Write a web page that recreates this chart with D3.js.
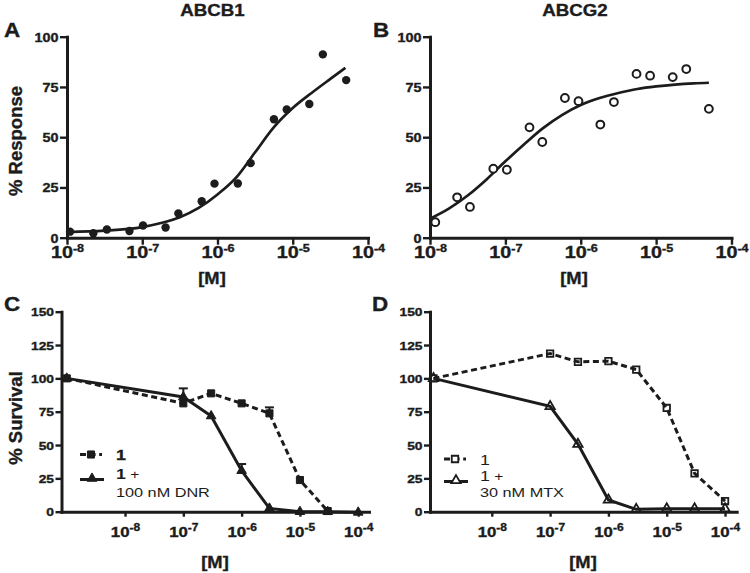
<!DOCTYPE html>
<html><head><meta charset="utf-8">
<script src="https://cdn.jsdelivr.net/npm/d3@7"></script>
<style>
body{margin:0;background:#fff}
svg{display:block}
text{font-family:"Liberation Sans",Arial,Helvetica,sans-serif;fill:#1c1c1c}
text.heavy, .heavy text{stroke:#1c1c1c;stroke-width:0.35px}
</style>
</head><body>
<svg id="chart" width="750" height="573"></svg>
<script>
// ---------- DATA ----------
// Panel A (ABCB1): log10 concentration [M] and % response
const aLogConc = [-7.96,-7.65,-7.47,-7.17,-6.99,-6.69,-6.52,-6.21,-6.04,-5.73,-5.56,-5.25,-5.08,-4.78,-4.60,-4.29];
const aResponse = [3.0,2.2,4.1,3.3,6.1,5.1,12.1,18.1,26.9,27.0,37.1,58.9,63.8,66.5,91.2,78.4];
// fitted curve
const aFitLog = [-8,-7.5,-7,-6.75,-6.5,-6.25,-6,-5.75,-5.5,-5.25,-5,-4.75,-4.5,-4.3];
const aFitResp = [2.8,3.5,5.3,7.3,10.2,14.8,21.5,30,42.5,55,64.5,72,79,84.5];

// Panel B (ABCG2)
const bLogConc = [-7.93,-7.64,-7.47,-7.16,-6.98,-6.68,-6.51,-6.21,-6.03,-5.74,-5.56,-5.26,-5.08,-4.78,-4.60,-4.30];
const bResponse = [7.7,20.1,15.3,34.3,33.8,54.9,47.6,69.5,67.9,56.3,67.5,81.5,80.6,79.9,83.9,64.1];
const bFitLog = [-8,-7.75,-7.5,-7.25,-7,-6.75,-6.5,-6.25,-6,-5.75,-5.5,-5.25,-5,-4.75,-4.5,-4.3];
const bFitResp = [9.5,14.5,21,29,38,46.5,54.5,61,66,69.5,72,74,75.3,76.2,76.8,77.1];

// Panels C & D: concentrations [M] (control plotted at 1e-9)
const survConc = [1e-9,1e-7,3e-7,1e-6,3e-6,1e-5,3e-5,1e-4];
// C: "1" alone (filled squares, dashed) and "1 + 100 nM DNR" (filled triangles, solid)
const cCmpd = [100,81.25,88.75,81.25,73.75,23.75,0.5];
const cCmpdErr = [0,0,0,0,4.5,0,0];
const cCombo = [100,86,71.75,30.75,2.5,0,0,-0.5];
const cComboErr = [0,6.5,0,5,0,0,0,0];
// D: "1" alone (open squares, dashed) and "1 + 30 nM MTX" (open triangles, solid)
const dCmpd = [100,118.6,112.4,112.9,106.6,77.8,28.8,8.0];
const dCombo = [100,79,50.7,8.8,1.8,2.3,2.3,2.3];

// axis ticks
const abYTicks = [0,25,50,75,100];
const abXTicks = [1e-8,1e-7,1e-6,1e-5,1e-4];
const cdYTicks = [0,25,50,75,100,125,150];
const cdXTicks = [1e-8,1e-7,1e-6,1e-5,1e-4];

const titles = ["ABCB1","ABCG2"];
const panelLetters = ["A","B","C","D"];
const xLabel = "[M]";
const yLabelTop = "% Response";
const yLabelBottom = "% Survival";
const legendC = ["1","1 +","100 nM DNR"];
const legendD = ["1","1 +","30 nM MTX"];

// ---------- DRAWING ----------
const SX = 1.2;
const INK = "#1c1c1c";
const svg = d3.select("#chart");

function stext(x, y, str, size, weight, anchor, sx) {
  return svg.append("text")
    .attr("class", weight === "bold" ? "heavy" : null)
    .attr("transform", `translate(${x},${y}) scale(${sx||SX},1)`)
    .attr("text-anchor", anchor || "start")
    .attr("font-size", size)
    .attr("font-weight", weight || "bold")
    .text(str);
}

function axes(x, y, cfg) {
  const gy = svg.append("g").attr("class", "heavy").attr("transform", `translate(${x.range()[0]},0)`)
    .call(d3.axisLeft(y).tickValues(cfg.yTicks).tickSize(cfg.yTick).tickSizeOuter(0).tickFormat(d3.format("d")));
  const gx = svg.append("g").attr("class", "heavy").attr("transform", `translate(0,${y.range()[0]})`)
    .call(d3.axisBottom(x).tickValues(cfg.xTicks).tickSize(cfg.xTick).tickSizeOuter(0));
  [gy, gx].forEach(g => {
    g.select(".domain").attr("stroke", INK).attr("stroke-width", 3).attr("stroke-linecap", "square");
    g.selectAll(".tick line").attr("stroke", INK).attr("stroke-width", 2.4);
  });
  gy.selectAll(".tick text")
    .attr("x", -(cfg.yTick + 1.5) / SX).attr("dy", "0.36em")
    .attr("transform", `scale(${SX},1)`)
    .attr("font-size", cfg.yFont).attr("font-weight", "bold").attr("fill", INK)
    .attr("font-family", null);
  gx.selectAll(".tick text").each(function(d) {
    const t = d3.select(this);
    const e = Math.round(Math.log10(d));
    t.text(null).attr("y", cfg.xLabelY).attr("dy", 0)
      .attr("transform", `scale(${SX},1)`)
      .attr("font-size", cfg.xFont).attr("font-weight", "bold").attr("fill", INK)
      .attr("font-family", null);
    t.append("tspan").text("10");
    t.append("tspan").attr("dy", cfg.expDy).attr("font-size", cfg.expFont).text(String(e));
  });
}

// ----- Panels A & B -----
const yAB = d3.scaleLinear().domain([0,100]).range([237.7,36.7]);
const xA = d3.scaleLog().domain([1e-8,1e-4]).range([67,368]);
const xB = d3.scaleLog().domain([1e-8,1e-4]).range([430,731.5]);
const abCfg = {yTicks: abYTicks, xTicks: abXTicks, yTick: 7, xTick: 7, yFont: 12, xFont: 16.5, expFont: 10.5, expDy: -6.5, xLabelY: 20.5};
axes(xA, yAB, abCfg);
axes(xB, yAB, abCfg);

const fitLine = (x, y) => d3.line().x(d => x(Math.pow(10, d[0]))).y(d => y(d[1])).curve(d3.curveMonotoneX);

svg.append("path").datum(aFitLog.map((v,i) => [v, aFitResp[i]]))
  .attr("d", fitLine(xA, yAB)).attr("fill", "none").attr("stroke", INK).attr("stroke-width", 2.7);
svg.append("g").selectAll("circle").data(aLogConc.map((v,i) => [v, aResponse[i]])).join("circle")
  .attr("cx", d => xA(Math.pow(10, d[0]))).attr("cy", d => yAB(d[1])).attr("r", 4.2).attr("fill", INK);

svg.append("path").datum(bFitLog.map((v,i) => [v, bFitResp[i]]))
  .attr("d", fitLine(xB, yAB)).attr("fill", "none").attr("stroke", INK).attr("stroke-width", 2.7);
svg.append("g").selectAll("circle").data(bLogConc.map((v,i) => [v, bResponse[i]])).join("circle")
  .attr("cx", d => xB(Math.pow(10, d[0]))).attr("cy", d => yAB(d[1])).attr("r", 3.9)
  .attr("fill", "#fff").attr("stroke", INK).attr("stroke-width", 2);

// ----- Panels C & D -----
const yCD = d3.scaleLinear().domain([0,150]).range([511.7,311.7]);
const xC = d3.scaleLog().domain([Math.pow(10,-9.09), Math.pow(10,-3.815)]).range([61.5,369]);
const xD = d3.scaleLog().domain([Math.pow(10,-9.06), Math.pow(10,-3.8)]).range([430,736.7]);
const cdCfg = {yTicks: cdYTicks, xTicks: cdXTicks, yTick: 6, xTick: 5, yFont: 11.5, xFont: 14, expFont: 10, expDy: -5.5, xLabelY: 25};
axes(xC, yCD, cdCfg);
axes(xD, yCD, cdCfg);

const sq = d3.symbol().type(d3.symbolSquare);
const tri = d3.symbol().type(d3.symbolTriangle);

function series(x, y, vals, errs, dashed, shape, size, filled) {
  const pts = vals.map((v,i) => [survConc[i], v, errs ? errs[i] : 0]);
  svg.append("path").datum(pts)
    .attr("d", d3.line().x(d => x(d[0])).y(d => y(d[1])))
    .attr("fill", "none").attr("stroke", INK).attr("stroke-width", 3)
    .attr("stroke-dasharray", dashed ? "6,3.6" : null);
  const eg = svg.append("g").attr("stroke", INK).attr("stroke-width", 2);
  pts.filter(d => d[2] > 0).forEach(d => {
    const cx = x(d[0]), y0 = y(d[1]), y1 = y(d[1] + d[2]);
    eg.append("line").attr("x1", cx).attr("x2", cx).attr("y1", y0).attr("y2", y1);
    eg.append("line").attr("x1", cx - 4.5).attr("x2", cx + 4.5).attr("y1", y1).attr("y2", y1);
  });
  svg.append("g").selectAll("path").data(pts).join("path")
    .attr("transform", d => `translate(${x(d[0])},${y(d[1])})`)
    .attr("d", shape.size(size)())
    .attr("fill", filled ? INK : "none").attr("stroke", INK).attr("stroke-width", filled ? 1 : 1.8);
}

series(xC, yCD, cCmpd, cCmpdErr, true, sq, 50, true);
series(xC, yCD, cCombo, cComboErr, false, tri, 40, true);
series(xD, yCD, dCmpd, null, true, sq, 42, false);
series(xD, yCD, dCombo, null, false, tri, 38, false);

// ----- Legends -----
function legend(x0, yRow1, yRow2, labels, filled, bold1, yText3) {
  svg.append("line").attr("x1", x0).attr("x2", x0 + 22).attr("y1", yRow1).attr("y2", yRow1)
    .attr("stroke", INK).attr("stroke-width", 3).attr("stroke-dasharray", "6,3.6");
  svg.append("path").attr("transform", `translate(${x0 + 11},${yRow1})`)
    .attr("d", sq.size(filled ? 50 : 42)()).attr("fill", filled ? INK : "#fff")
    .attr("stroke", INK).attr("stroke-width", filled ? 1 : 1.8);
  svg.append("line").attr("x1", x0).attr("x2", x0 + 24).attr("y1", yRow2).attr("y2", yRow2)
    .attr("stroke", INK).attr("stroke-width", 3);
  svg.append("path").attr("transform", `translate(${x0 + 12},${yRow2 - 1})`)
    .attr("d", tri.size(filled ? 40 : 38)()).attr("fill", filled ? INK : "#fff")
    .attr("stroke", INK).attr("stroke-width", filled ? 1 : 1.8);
  const tx = x0 + 36;
  stext(tx, yRow1 + 5.5, labels[0], 15.5, bold1 ? "bold" : "normal", "start", 1.15);
  const t2 = svg.append("text")
    .attr("transform", `translate(${tx},${yRow2 - 1}) scale(1.15,1)`)
    .attr("font-size", 15.5);
  t2.append("tspan").attr("font-weight", bold1 ? "bold" : "normal")
    .attr("class", bold1 ? "heavy" : null).text(labels[1].split(" ")[0]);
  t2.append("tspan").attr("font-weight", "normal").attr("font-size", 13.5).text(" " + labels[1].split(" ")[1]);
  stext(tx, yText3, labels[2], 13, "normal", "start", 1.25);
}
legend(80, 454.5, 479.5, legendC, true, true, 496.5);
legend(444, 459, 481.5, legendD, false, false, 496.5);

// ----- Titles, panel letters, axis labels -----
stext(212.5, 16, titles[0], 16, "bold", "middle", 1.17);
stext(575, 16, titles[1], 16, "bold", "middle", 1.17);

stext(4, 37, panelLetters[0], 20, "bold", "start", 1.12);
stext(373, 37, panelLetters[1], 20, "bold", "start", 1.12);
stext(4, 311, panelLetters[2], 20, "bold", "start", 1.12);
stext(372, 311, panelLetters[3], 20, "bold", "start", 1.12);

[[212, 284], [574, 284], [215, 568], [583, 568]].forEach(p => stext(p[0], p[1], xLabel, 17, "bold", "middle", 1.08));

svg.append("text").attr("class", "heavy").attr("transform", "translate(22,141) rotate(-90)")
  .attr("text-anchor", "middle").attr("font-size", 18.5).attr("font-weight", "bold").text(yLabelTop);
svg.append("text").attr("class", "heavy").attr("transform", "translate(22,418) rotate(-90)")
  .attr("text-anchor", "middle").attr("font-size", 18.5).attr("font-weight", "bold").text(yLabelBottom);
</script>
</body></html>
